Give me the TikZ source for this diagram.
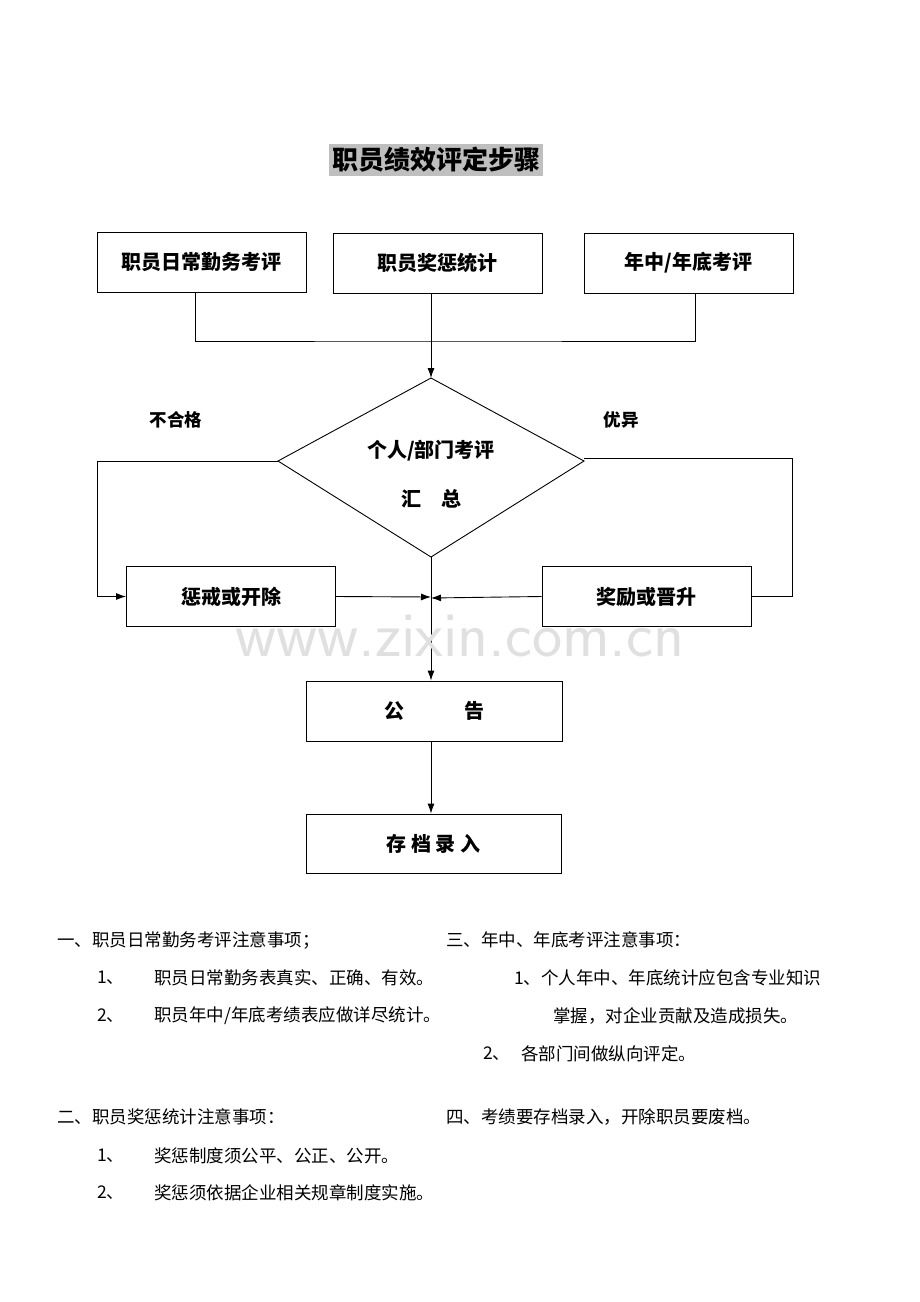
\documentclass[tikz,border=0pt]{standalone}
\usepackage{fontspec}
\setmainfont{Liberation Serif}
\newfontfamily\cjk{Noto Sans CJK SC}
\usetikzlibrary{arrows.meta}
\begin{document}
\begin{tikzpicture}[x=1pt,y=-1pt,
  box/.style={draw,line width=0.9pt,minimum width=209pt,minimum height=60pt,font=\cjk\fontsize{20}{22}\selectfont\bfseries},
  ln/.style={line width=0.9pt},
  arr/.style={ln,-{Latex[length=10pt,width=7pt]}},
  txt/.style={anchor=west,inner sep=0pt,font=\cjk\fontsize{17.5}{19}\selectfont}]
\useasboundingbox[fill=white] (0,0) rectangle (920,1302);
\node[fill=black!25,inner sep=3pt,font=\cjk\fontsize{26}{28}\selectfont\bfseries] (title) at (436,160) {职员绩效评定步骤};
\node[box] (b1) at (201.5,262.5) {职员日常勤务考评};
\node[box] (b2) at (437.5,263) {职员奖惩统计};
\node[box] (b3) at (688.5,263) {年中/年底考评};
\coordinate (d1) at (431,378);
\coordinate (dl) at (278,461);
\coordinate (dr) at (584,461);
\coordinate (db) at (431,557);
\draw[ln] (d1) -- (dr) -- (db) -- (dl) -- cycle;
\node[font=\cjk\fontsize{20}{22}\selectfont\bfseries] (dt1) at (431,451) {个人/部门考评};
\node[font=\cjk\fontsize{20}{22}\selectfont\bfseries] (dt2) at (431,499) {汇\quad 总};
\node[font=\cjk\fontsize{17.5}{19}\selectfont\bfseries] (l1) at (176,420) {不合格};
\node[font=\cjk\fontsize{17.5}{19}\selectfont\bfseries] (l2) at (621,420) {优异};
\node[box] (p) at (231,596.5) {惩戒或开除};
\node[box] (r) at (646.5,596.5) {奖励或晋升};
\node[box,minimum width=256pt] (g) at (434,711) {公\qquad\quad 告};
\node[box,minimum width=255pt,minimum height=59pt] (c) at (433.5,843.5) {存\ 档\ 录\ 入};
\coordinate (j) at (431,341);
\draw[ln] (195,292) |- (j) -| (695,293);
\draw[arr] (431,293) -- (d1);
\draw[arr] (dl) -- (97,461) |- (p.west);
\draw[ln] (584,458) -- (792,458) |- (r.east);
\draw[arr] (db) -- (g.north -| db);
\draw[arr] (p.east) -- (431,597);
\draw[arr] (r.west) -- (431,598);
\draw[arr] (g.south -| db) -- (c.north -| db);
\node[text=black!12,font=\fontsize{64}{66}\selectfont\sffamily] (wm) at (460,636) {www.zixin.com.cn};
\node[txt] (t1) at (57,940) {一、职员日常勤务考评注意事项；};
\node[txt] (t2) at (97,978) {1、};
\node[txt] (t3) at (154,978) {职员日常勤务表真实、正确、有效。};
\node[txt] (t4) at (97,1016) {2、};
\node[txt] (t5) at (154,1016) {职员年中/年底考绩表应做详尽统计。};
\node[txt] (t6) at (446,940) {三、年中、年底考评注意事项：};
\node[txt] (t7) at (514,978) {1、个人年中、年底统计应包含专业知识};
\node[txt] (t8) at (553,1016) {掌握，对企业贡献及造成损失。};
\node[txt] (t9) at (483,1054) {2、};
\node[txt] (t10) at (521,1054) {各部门间做纵向评定。};
\node[txt] (t11) at (57,1117) {二、职员奖惩统计注意事项：};
\node[txt] (t12) at (446,1117) {四、考绩要存档录入，开除职员要废档。};
\node[txt] (t13) at (97,1156) {1、};
\node[txt] (t14) at (154,1156) {奖惩制度须公平、公正、公开。};
\node[txt] (t15) at (97,1193) {2、};
\node[txt] (t16) at (154,1193) {奖惩须依据企业相关规章制度实施。};
\end{tikzpicture}
\end{document}
